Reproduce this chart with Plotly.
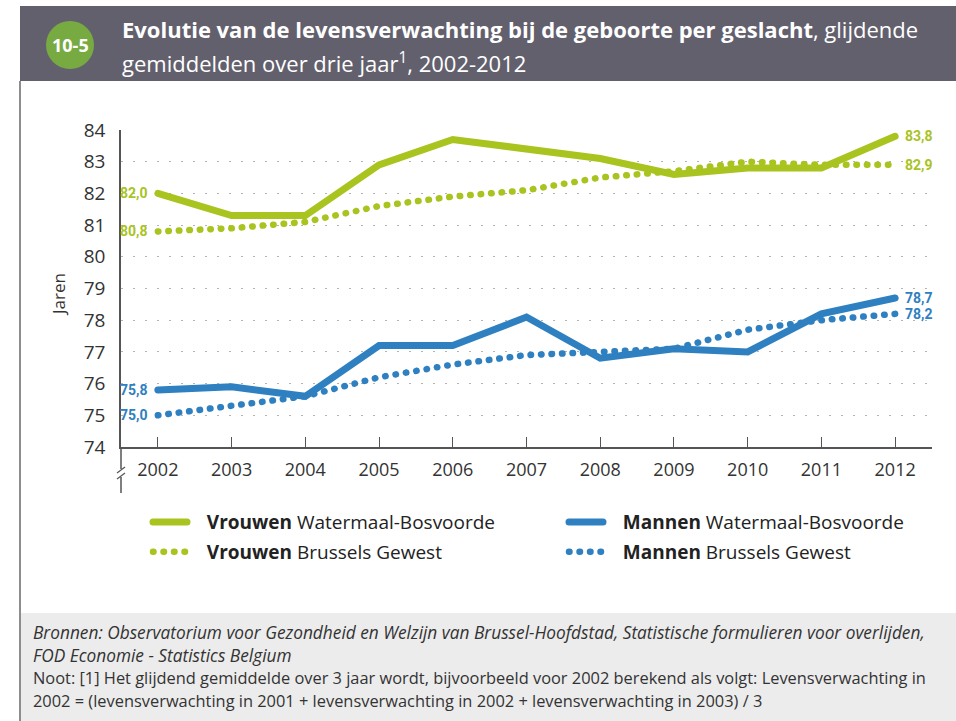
import plotly.graph_objects as go

# ---- data -----------------------------------------------------------------
years = [2002, 2003, 2004, 2005, 2006, 2007, 2008, 2009, 2010, 2011, 2012]
vrouwen_wb = [82.0, 81.3, 81.3, 82.9, 83.7, 83.4, 83.1, 82.6, 82.8, 82.8, 83.8]
vrouwen_bg = [80.8, 80.9, 81.1, 81.6, 81.9, 82.1, 82.5, 82.7, 83.0, 82.9, 82.9]
mannen_wb = [75.8, 75.9, 75.6, 77.2, 77.2, 78.1, 76.8, 77.1, 77.0, 78.2, 78.7]
mannen_bg = [75.0, 75.3, 75.6, 76.2, 76.6, 76.9, 77.0, 77.1, 77.7, 78.0, 78.2]
y_ticks = [74, 75, 76, 77, 78, 79, 80, 81, 82, 83, 84]

# ---- style ----------------------------------------------------------------
GREEN = "#a9c31f"
BLUE = "#2f80c1"
HEADER = "#63606e"
FONT = "Open Sans, Noto Sans, DejaVu Sans, sans-serif"
NARROW = "Roboto, Open Sans, sans-serif"
DOTS = "0.5px,10px"

W_FIG, H_FIG = 956, 721
L, R, T, B = 121, 932, 130, 447


def px(x):
    return (x - L) / (R - L)


def py(y):
    return (B - y) / (B - T)


def fmt(v):
    return f"{v:.1f}".replace(".", ",")


fig = go.Figure()

series = [
    ("<b>Vrouwen</b> Watermaal-Bosvoorde", vrouwen_wb, GREEN, "solid", 7, "legend", "vw"),
    ("<b>Vrouwen</b> Brussels Gewest", vrouwen_bg, GREEN, DOTS, 6.5, "legend", "vb"),
    ("<b>Mannen</b> Watermaal-Bosvoorde", mannen_wb, BLUE, "solid", 7, "legend2", "mw"),
    ("<b>Mannen</b> Brussels Gewest", mannen_bg, BLUE, DOTS, 6.5, "legend2", "mb"),
]
for name, vals, col, dash, wid, leg, grp in series:
    fig.add_trace(go.Scatter(
        x=years, y=vals, mode="lines", name="\u00a0\u00a0\u00a0" + name,
        line=dict(color=col, width=wid, dash=dash),
        legend=leg, legendgroup=grp, hoverinfo="skip",
    ))

annotations = []
# end-point value labels
for vals, col in [(vrouwen_wb, GREEN), (vrouwen_bg, GREEN), (mannen_wb, BLUE), (mannen_bg, BLUE)]:
    annotations.append(dict(x=years[0], y=vals[0], xref="x", yref="y", text=fmt(vals[0]),
                            showarrow=False, xanchor="right", xshift=-8,
                            font=dict(family=NARROW, size=14, color=col, weight="bold")))
    annotations.append(dict(x=years[-1], y=vals[-1], xref="x", yref="y", text=fmt(vals[-1]),
                            showarrow=False, xanchor="left", xshift=8,
                            font=dict(family=NARROW, size=14, color=col, weight="bold")))

# header texts
annotations += [
    dict(x=px(70), y=py(45), xref="paper", yref="paper", text="<b>10-5</b>", showarrow=False,
         xanchor="center", yanchor="middle", font=dict(family=FONT, size=18, color="white")),
    dict(x=px(120), y=py(29), xref="paper", yref="paper",
         text="<b>Evolutie van de levensverwachting bij de geboorte per geslacht</b>, glijdende",
         showarrow=False, xanchor="left", yanchor="middle",
         font=dict(family=FONT, size=22, color="white")),
    dict(x=px(120), y=py(62), xref="paper", yref="paper",
         text="gemiddelden over drie jaar<sup>1</sup>, 2002-2012",
         showarrow=False, xanchor="left", yanchor="middle",
         font=dict(family=FONT, size=22, color="white")),
    dict(x=px(58), y=py(295), xref="paper", yref="paper", text="Jaren", textangle=-90,
         showarrow=False, xanchor="center", yanchor="middle",
         font=dict(family=FONT, size=17, color="#333333")),
]

# footer texts
footer = [
    ("<i>Bronnen: Observatorium voor Gezondheid en Welzijn van Brussel-Hoofdstad, "
     "Statistische formulieren voor overlijden,</i>", 632, 17.3),
    ("<i>FOD Economie - Statistics Belgium</i>", 655, 17.3),
    ("Noot: [1] Het glijdend gemiddelde over 3 jaar wordt, bijvoorbeeld voor 2002 berekend "
     "als volgt: Levensverwachting in", 677, 16.4),
    ("2002 = (levensverwachting in 2001 + levensverwachting in 2002 + levensverwachting "
     "in 2003) / 3", 700, 16.4),
]
for txt, yy, fs in footer:
    annotations.append(dict(x=px(31), y=py(yy), xref="paper", yref="paper", text=txt,
                            showarrow=False, xanchor="left", yanchor="middle",
                            font=dict(family=FONT, size=fs, color="#333333")))

shapes = [
    # header band
    dict(type="rect", xref="paper", yref="paper", x0=px(20), x1=px(960), y0=py(6), y1=py(81),
         fillcolor=HEADER, line=dict(width=0), layer="below"),
    # number badge
    dict(type="circle", xref="paper", yref="paper", x0=px(46), x1=px(94), y0=py(21), y1=py(69),
         fillcolor="#78aa42", line=dict(width=0), layer="below"),
    # footer panel
    dict(type="rect", xref="paper", yref="paper", x0=px(21), x1=px(960), y0=py(613), y1=py(725),
         fillcolor="#ececec", line=dict(width=0), layer="below"),
    # frame line on the left
    dict(type="line", xref="paper", yref="paper", x0=px(20), x1=px(20), y0=py(81), y1=py(725),
         line=dict(color="#8d8d8d", width=2)),
    # y-axis extension with break marks
    dict(type="line", xref="paper", yref="paper", x0=0, x1=0, y0=py(447), y1=py(469),
         line=dict(color="#555555", width=1.5)),
    dict(type="line", xref="paper", yref="paper", x0=0, x1=0, y0=py(477), y1=py(493),
         line=dict(color="#555555", width=1.5)),
    dict(type="line", xref="paper", yref="paper", x0=px(117), x1=px(125), y0=py(473), y1=py(467),
         line=dict(color="#555555", width=1.2)),
    dict(type="line", xref="paper", yref="paper", x0=px(117), x1=px(125), y0=py(479), y1=py(473),
         line=dict(color="#555555", width=1.2)),
]

legend_common = dict(
    orientation="v", yanchor="top", xanchor="left", y=py(503.2),
    bgcolor="rgba(0,0,0,0)", borderwidth=0, itemwidth=34, tracegroupgap=2,
    traceorder="grouped", font=dict(family=FONT, size=19, color="#222222"),
    itemclick=False, itemdoubleclick=False,
)

fig.update_layout(
    width=W_FIG, height=H_FIG, autosize=False,
    margin=dict(l=L, r=W_FIG - R, t=T, b=H_FIG - B, autoexpand=False),
    paper_bgcolor="white", plot_bgcolor="white",
    showlegend=True,
    legend=dict(x=px(148), **legend_common),
    legend2=dict(x=px(564), **legend_common),
    xaxis=dict(
        range=[2001.5, 2012.5], tickvals=years, ticktext=[str(y) for y in years],
        showgrid=False, zeroline=False, showline=True, linecolor="#555555", linewidth=1.5,
        ticks="inside", ticklen=10, tickwidth=1.3, tickcolor="#555555",
        ticklabelstandoff=6,
        tickfont=dict(family=FONT, size=18, color="#333333"), fixedrange=True,
    ),
    yaxis=dict(
        range=[74, 84], tickvals=y_ticks, showgrid=True, gridcolor="#b3b3b3", gridwidth=1,
        griddash="1.5px,10.5px", zeroline=False, showline=True, linecolor="#555555",
        linewidth=1.5, ticks="", ticklabelstandoff=10,
        tickfont=dict(family=FONT, size=19, color="#333333"), fixedrange=True,
    ),
    annotations=annotations,
    shapes=shapes,
)

round_caps = (
    "var s=document.createElement('style');"
    "s.innerHTML='.scatterlayer .js-line, .legendlines path{stroke-linecap:round !important;}';"
    "document.head.appendChild(s);"
)
fig.write_html("out.html", post_script=round_caps, config={"displayModeBar": False})
